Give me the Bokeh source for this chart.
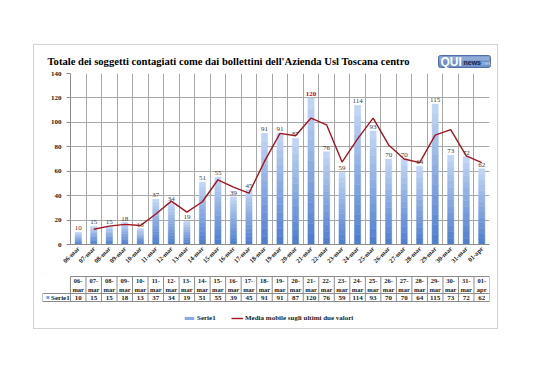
import math
from bokeh.plotting import figure
from bokeh.models import Range1d, FixedTicker, Legend, LegendItem, ColumnDataSource
from bokeh.layouts import column
from bokeh.embed import file_html
from bokeh.resources import INLINE
from bokeh.core.properties import value

# ---------------- data ----------------
dates = ["06-mar", "07-mar", "08-mar", "09-mar", "10-mar", "11-mar", "12-mar",
         "13-mar", "14-mar", "15-mar", "16-mar", "17-mar", "18-mar", "19-mar",
         "20-mar", "21-mar", "22-mar", "23-mar", "24-mar", "25-mar", "26-mar",
         "27-mar", "28-mar", "29-mar", "30-mar", "31-mar", "01-apr"]
serie1 = [10, 15, 15, 18, 13, 37, 34, 19, 51, 55, 39, 45, 91, 91, 87, 120, 76,
          59, 114, 93, 70, 70, 64, 115, 73, 72, 62]
media_mobile = [float("nan"), 12.5, 15, 16.5, 15.5, 25, 35.5, 26.5, 35, 53, 47, 42,
                68, 91, 89, 103.5, 98, 67.5, 86.5, 103.5, 81.5, 70, 67, 89.5,
                94, 72.5, 67]
y_ticks = [0, 20, 40, 60, 80, 100, 120, 140]
series_name = "Serie1"
line_name = "Media mobile sugli ultimi due valori"
title_text = "Totale dei soggetti contagiati come dai bollettini dell'Azienda Usl Toscana centro"

FONT = "Liberation Serif"
n = len(dates)
xs = list(range(n))
W = 463

# ---------------- header (title + logo) ----------------
h = figure(width=W, height=23, x_range=Range1d(0, W), y_range=Range1d(23, 0),
           output_backend="svg", toolbar_location=None, x_axis_location=None, y_axis_location=None,
           min_border_left=0, min_border_right=0, min_border_top=0, min_border_bottom=0,
           frame_align=False)
h.outline_line_color = None
h.grid.visible = False
h.text(x=[13], y=[16], text=[title_text], text_font=value(FONT), text_font_style="bold",
       text_font_size="10.6px", text_baseline="middle", text_color="#000000")
h.quad(left=[404], right=[456], top=[10], bottom=[22], fill_color="#6f91c8",
       line_color="#506fa5", line_width=1, border_radius=2)
h.quad(left=[405], right=[455], top=[11], bottom=[15], fill_color="#a6bde3",
       line_color=None, fill_alpha=0.6)
h.text(x=[406], y=[16.5], text=["QUI"], text_font=value("Liberation Sans"), text_font_style="bold",
       text_font_size="12px", text_baseline="middle", text_color="white")
h.text(x=[429], y=[17], text=["news"], text_font=value("Liberation Sans"), text_font_style="bold",
       text_font_size="7px", text_baseline="middle", text_color="#14244a")
h.text(x=[446], y=[17], text=[".net"], text_font=value("Liberation Sans"),
       text_font_size="6px", text_baseline="middle", text_color="#d0dcf2")

# ---------------- main chart ----------------
p = figure(width=W, height=204, x_range=Range1d(-0.5, n - 0.5), y_range=Range1d(0, 140),
           output_backend="svg", toolbar_location=None, frame_align=False,
           min_border_left=36, min_border_right=8, min_border_top=5, min_border_bottom=28)
p.outline_line_color = None
p.background_fill_color = "white"
p.border_fill_color = "white"

p.ygrid.ticker = FixedTicker(ticks=y_ticks)
p.ygrid.grid_line_color = "#a8a8a8"
p.xgrid.ticker = FixedTicker(ticks=[i - 0.5 for i in range(n + 1)])
p.xgrid.grid_line_color = "#a8a8a8"

p.yaxis.ticker = FixedTicker(ticks=y_ticks)
p.yaxis.major_label_text_font = FONT
p.yaxis.major_label_text_font_style = "bold"
p.yaxis.major_label_text_font_size = "7px"
p.yaxis.major_label_text_color = "#222222"
p.yaxis.major_tick_out = 4
p.yaxis.major_tick_in = 0
p.yaxis.minor_tick_line_color = None
p.yaxis.axis_line_color = "#8c8c8c"
p.yaxis.major_tick_line_color = "#8c8c8c"

p.xaxis.ticker = FixedTicker(ticks=xs)
p.xaxis.major_label_overrides = {i: d for i, d in enumerate(dates)}
p.xaxis.major_label_orientation = math.pi / 4
p.xaxis.major_label_text_font = FONT
p.xaxis.major_label_text_font_style = "bold"
p.xaxis.major_label_text_font_size = "6.5px"
p.xaxis.major_label_text_color = "#222222"
p.xaxis.major_tick_out = 0
p.xaxis.major_tick_in = 0
p.xaxis.minor_tick_line_color = None
p.xaxis.axis_line_color = "#8c8c8c"
p.xaxis.major_label_standoff = 3

# gradient bars (light at top, darker at bottom)
bands = 14
top_rgb = (0xc4, 0xd7, 0xf6)
bot_rgb = (0x4c, 0x7c, 0xd0)
for k in range(bands):
    tt = (k + 0.5) / bands
    col = "#%02x%02x%02x" % tuple(int(round(b + (a - b) * tt)) for a, b in zip(top_rgb, bot_rgb))
    p.vbar(x=xs, bottom=[v * k / bands for v in serie1], top=[v * (k + 1) / bands for v in serie1],
           width=0.4, fill_color=col, line_color=col, line_width=0.5)

p.line(x=xs, y=media_mobile, line_color="#a3141c", line_width=1.4)

vmax = max(serie1)
lab_src = ColumnDataSource(dict(
    x=xs, y=serie1, t=[str(v) for v in serie1],
    c=["#c00000" if v == vmax else "#3a3a3a" for v in serie1],
    s=["bold" if v == vmax else "normal" for v in serie1]))
p.text(x="x", y="y", text="t", source=lab_src, text_color="c", text_font_style="s",
       text_font=value(FONT), text_font_size="7px", text_align="center",
       text_baseline="bottom", y_offset=-2)

# ---------------- data table + legend ----------------
t = figure(width=W, height=56, x_range=Range1d(-0.5 - 1.8, n - 0.5), y_range=Range1d(56, 0),
           output_backend="svg", toolbar_location=None, x_axis_location=None, y_axis_location=None,
           min_border_left=8, min_border_right=8, min_border_top=0, min_border_bottom=0,
           frame_align=False)
t.outline_line_color = None
t.grid.visible = False
t.border_fill_color = "white"

left = -0.5 - 1.8
row_top, row_mid, row_bot = 4, 21, 29
t.segment(x0=[-0.5, left, left], y0=[row_top, row_mid, row_bot],
          x1=[n - 0.5] * 3, y1=[row_top, row_mid, row_bot], line_color="#8c8c8c", line_width=1)
vx = [i - 0.5 for i in range(n + 1)]
t.segment(x0=vx, y0=[row_top] * len(vx), x1=vx, y1=[row_bot] * len(vx),
          line_color="#8c8c8c", line_width=1)
t.segment(x0=[left], y0=[row_mid], x1=[left], y1=[row_bot], line_color="#8c8c8c", line_width=1)

day_part = [d.split("-")[0] + "-" for d in dates]
mon_part = [d.split("-")[1] for d in dates]
t.text(x=xs, y=[8.5] * n, text=day_part, text_font=value(FONT), text_font_style="bold",
       text_font_size="6.5px", text_align="center", text_baseline="middle", text_color="#222222")
t.text(x=xs, y=[16.5] * n, text=mon_part, text_font=value(FONT), text_font_style="bold",
       text_font_size="6.5px", text_align="center", text_baseline="middle", text_color="#222222")
t.text(x=xs, y=[25] * n, text=[str(v) for v in serie1], text_font=value(FONT), text_font_style="bold",
       text_font_size="7px", text_align="center", text_baseline="middle", text_color="#222222")
t.rect(x=[left + 0.35], y=[25], width=3, height=3, width_units="screen", height_units="screen",
       fill_color="#7f9fdc", line_color=None)
t.text(x=[left + 0.55], y=[25], text=[series_name], text_font=value(FONT), text_font_style="bold",
       text_font_size="7px", text_align="left", text_baseline="middle", text_color="#222222")

# legend (dummy renderers placed outside the visible range)
r_bar = t.vbar(x=[-50], top=[0], bottom=[1], width=0.4, fill_color="#8caae2", line_color=None)
r_line = t.line(x=[-50, -49], y=[0, 0], line_color="#a3141c", line_width=1.4)
legend = Legend(items=[LegendItem(label=series_name, renderers=[r_bar]),
                       LegendItem(label=line_name, renderers=[r_line])],
                orientation="horizontal", location=(141, 6),
                label_text_font=FONT, label_text_font_style="bold", label_text_font_size="7px",
                label_text_color="#222222", glyph_width=12, glyph_height=4, label_height=8,
                label_standoff=2, spacing=14, padding=0, margin=0,
                border_line_color=None, background_fill_alpha=0)
t.add_layout(legend)

layout = column(h, p, t, margin=(44, 0, 0, 33), spacing=0,
                styles={"border": "1px solid #d2d2d2"})

open("out.html", "w").write(file_html(layout, INLINE))
